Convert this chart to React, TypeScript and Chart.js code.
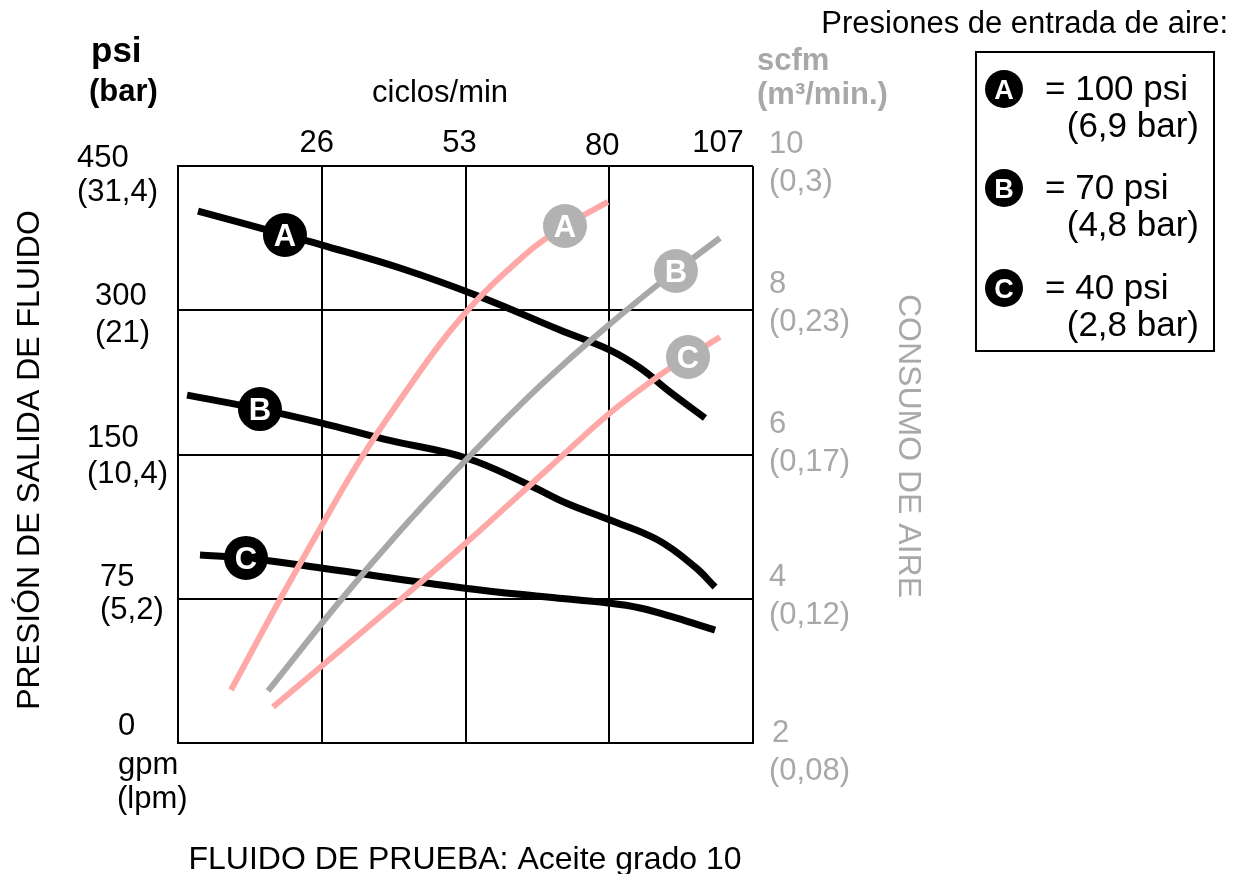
import React, { useEffect, useRef } from 'react';
import { Chart, registerables } from 'chart.js';

Chart.register(...registerables);

const FONT = '"Liberation Sans", Arial, Helvetica, sans-serif';

// ---------- DATA ----------
// Flow axis expressed in grid divisions (0..4); top cycle ticks sit on divisions 1..4.
const cycleTicks = ['26', '53', '80', '107'];
// Fluid outlet pressure axis (left), grid divisions 0..4
const psiTicks = ['0', '75', '150', '300', '450'];
const barTicks = ['', '(5,2)', '(10,4)', '(21)', '(31,4)'];
// Air consumption axis (right), scfm 2..10
const scfmTicks = ['2', '4', '6', '8', '10'];
const m3Ticks = ['(0,08)', '(0,12)', '(0,17)', '(0,23)', '(0,3)'];

// Fluid outlet pressure curves (x: flow division, y: pressure division)
const pressA_x = [0.139, 0.744, 1.002, 1.544, 2.087, 2.657, 3.005, 3.214, 3.423, 3.666];
const pressA_y = [3.688, 3.522, 3.452, 3.293, 3.099, 2.863, 2.724, 2.600, 2.433, 2.253];
const pressB_x = [0.063, 0.570, 1.0, 1.44, 2.004, 2.442, 2.699, 3.005, 3.339, 3.597, 3.736];
const pressB_y = [2.412, 2.315, 2.218, 2.105, 1.976, 1.789, 1.664, 1.546, 1.407, 1.220, 1.081];
const pressC_x = [0.153, 0.473, 0.995, 1.983, 2.567, 2.991, 3.214, 3.464, 3.736];
const pressC_y = [1.303, 1.283, 1.213, 1.075, 1.012, 0.971, 0.936, 0.867, 0.783];

// Air consumption curves (x: flow division, y: scfm)
const airA_x = [0.369, 0.696, 1.002, 1.266, 1.544, 1.962, 2.428, 2.692, 2.991];
const airA_y = [2.735, 3.941, 5.023, 5.924, 6.756, 7.879, 8.794, 9.168, 9.501];
const airB_x = [0.626, 1.127, 1.544, 1.983, 2.379, 2.692, 3.005, 3.318, 3.464, 3.770];
const airB_y = [2.721, 3.969, 4.939, 5.882, 6.686, 7.269, 7.809, 8.322, 8.544, 9.002];
const airC_x = [0.661, 1.544, 2.003, 2.588, 3.005, 3.353, 3.548, 3.770];
const airC_y = [2.499, 3.983, 4.773, 5.827, 6.575, 7.102, 7.352, 7.629];

// Curve badge letters and the point index they sit on (same order as datasets)
const badgeLetters = ['A', 'B', 'C', 'A', 'B', 'C'];
const badgeIndex = [7, 8, 6, 1, 1, 1];

// Legend
const legendTitle = 'Presiones de entrada de aire:';
const legendLetters = ['A', 'B', 'C'];
const legendPsi = ['= 100 psi', '= 70 psi', '= 40 psi'];
const legendBar = ['(6,9 bar)', '(4,8 bar)', '(2,8 bar)'];

// ---------- STYLE / LAYOUT ----------
const PINK = 'rgb(255,168,168)';
const GREY_LINE = 'rgb(168,168,168)';
const GREY_BADGE = 'rgb(178,178,178)';
const GREY_TEXT = 'rgb(168,168,168)';

const leftTickLeft = [118, 100, 87, 95, 77];
const leftTickBase = [-8, -13, -8, -5, 1];
const leftTickBase2 = [0, 33, 36, 37, 34];
const rightTickLeft = [772, 769, 769, 769, 769];
const rightTickBase = [-1, -13, -22, -17, -13];
const topTickDx = [-5, -6, -7, -35];
const topTickBase = [152, 152, 155, 152];

const pts = (xs: number[], ys: number[]) => xs.map((x, i) => ({ x, y: ys[i] }));

function drawText(
  ctx: CanvasRenderingContext2D,
  s: string,
  x: number,
  y: number,
  size: number,
  opt: { bold?: boolean; color?: string; align?: CanvasTextAlign; rot?: number } = {}
) {
  ctx.save();
  ctx.font = `${opt.bold ? 'bold ' : ''}${size}px ${FONT}`;
  ctx.fillStyle = opt.color || '#000';
  ctx.textAlign = opt.align || 'left';
  ctx.textBaseline = 'alphabetic';
  ctx.translate(x, y);
  if (opt.rot) ctx.rotate(opt.rot);
  ctx.fillText(s, 0, 0);
  ctx.restore();
}

function badge(ctx: CanvasRenderingContext2D, x: number, y: number, r: number, fill: string, letter: string, size: number) {
  ctx.save();
  ctx.beginPath();
  ctx.arc(x, y, r, 0, Math.PI * 2);
  ctx.fillStyle = fill;
  ctx.fill();
  ctx.font = `bold ${size}px ${FONT}`;
  ctx.fillStyle = '#fff';
  ctx.textAlign = 'center';
  ctx.textBaseline = 'alphabetic';
  ctx.fillText(letter, x, y + size * 0.36);
  ctx.restore();
}

const decorPlugin = {
  id: 'decor',
  afterDatasetsDraw(chart: any) {
    const ctx = chart.ctx as CanvasRenderingContext2D;
    chart.data.datasets.forEach((ds: any, i: number) => {
      const meta = chart.getDatasetMeta(i);
      const el = meta.data[badgeIndex[i]];
      if (!el) return;
      const fill = ds.yAxisID === 'y2' ? GREY_BADGE : '#000';
      badge(ctx, el.x, el.y, 22, fill, badgeLetters[i], 31);
    });
  },
  afterDraw(chart: any) {
    const ctx = chart.ctx as CanvasRenderingContext2D;
    const xs = chart.scales.x;
    const ys = chart.scales.y;
    const y2 = chart.scales.y2;

    // top cycles ticks
    cycleTicks.forEach((t, i) => {
      const px = xs.getPixelForValue(i + 1);
      drawText(ctx, t, px + topTickDx[i], topTickBase[i], 31, { align: 'center' });
    });
    drawText(ctx, 'ciclos/min', 372, 102, 31);

    // left psi / bar ticks
    psiTicks.forEach((t, i) => {
      const py = ys.getPixelForValue(i);
      drawText(ctx, t, leftTickLeft[i], py + leftTickBase[i], 31);
      if (barTicks[i]) drawText(ctx, barTicks[i], leftTickLeft[i], py + leftTickBase[i] + leftTickBase2[i], 31);
    });
    drawText(ctx, 'psi', 91, 62, 35, { bold: true });
    drawText(ctx, '(bar)', 89, 101, 31, { bold: true });
    drawText(ctx, 'gpm', 118, 774, 31);
    drawText(ctx, '(lpm)', 117, 808, 31);

    // right scfm ticks
    scfmTicks.forEach((t, i) => {
      const v = 2 + i * 2;
      const py = y2.getPixelForValue(v);
      drawText(ctx, t, rightTickLeft[i], py + rightTickBase[i], 31, { color: GREY_TEXT });
      drawText(ctx, m3Ticks[i], 769, py + rightTickBase[i] + 38, 31, { color: GREY_TEXT });
    });
    drawText(ctx, 'scfm', 757, 70, 31, { bold: true, color: GREY_TEXT });
    drawText(ctx, '(m\u00b3/min.)', 757, 104, 31, { bold: true, color: GREY_TEXT });

    // axis titles
    drawText(ctx, 'PRESIÓN DE SALIDA DE FLUIDO', 39, 460, 32, { align: 'center', rot: -Math.PI / 2 });
    drawText(ctx, 'CONSUMO DE AIRE', 899, 446, 32, { align: 'center', rot: Math.PI / 2, color: GREY_TEXT });
    drawText(ctx, 'FLUIDO DE PRUEBA: Aceite grado 10', 465, 869, 32, { align: 'center' });

    // legend
    drawText(ctx, legendTitle, 1228, 33, 31, { align: 'right' });
    ctx.save();
    ctx.strokeStyle = '#000';
    ctx.lineWidth = 2;
    ctx.strokeRect(976, 52, 238, 299);
    ctx.restore();
    const rowY = [89, 188, 288];
    legendLetters.forEach((l, i) => {
      badge(ctx, 1004, rowY[i], 19, '#000', l, 27);
      drawText(ctx, legendPsi[i], 1045, rowY[i] + 11, 35);
      drawText(ctx, legendBar[i], 1199, rowY[i] + 48, 35, { align: 'right' });
    });
  },
};

export default function App() {
  const ref = useRef<HTMLCanvasElement | null>(null);
  useEffect(() => {
    if (!ref.current) return;
    const line = (data: any[], color: string, axis: string, width: number) => ({
      data,
      borderColor: color,
      borderWidth: width,
      pointRadius: 0,
      pointHoverRadius: 0,
      fill: false,
      tension: 0.4,
      borderCapStyle: 'butt' as const,
      yAxisID: axis,
    });
    const chart = new Chart(ref.current, {
      type: 'line',
      data: {
        datasets: [
          line(pts(airA_x, airA_y), PINK, 'y2', 6),
          line(pts(airB_x, airB_y), GREY_LINE, 'y2', 6),
          line(pts(airC_x, airC_y), PINK, 'y2', 6),
          line(pts(pressA_x, pressA_y), '#000', 'y', 7),
          line(pts(pressB_x, pressB_y), '#000', 'y', 7),
          line(pts(pressC_x, pressC_y), '#000', 'y', 7),
        ],
      },
      options: {
        animation: false,
        responsive: false,
        devicePixelRatio: 1,
        events: [],
        layout: { padding: { left: 178, top: 166, right: 490, bottom: 131 } },
        plugins: { legend: { display: false }, tooltip: { enabled: false }, title: { display: false } },
        scales: {
          x: {
            type: 'linear',
            min: 0,
            max: 4,
            ticks: { display: false, stepSize: 1 },
            grid: { color: '#000', lineWidth: 2, drawTicks: false },
            border: { display: true, color: '#000', width: 2 },
            afterFit: (s: any) => { s.height = 0; },
          },
          y: {
            type: 'linear',
            min: 0,
            max: 4,
            ticks: { display: false, stepSize: 1 },
            grid: { color: '#000', lineWidth: 2, drawTicks: false },
            border: { display: true, color: '#000', width: 2 },
            afterFit: (s: any) => { s.width = 0; },
          },
          y2: {
            type: 'linear',
            min: 2,
            max: 10,
            display: false,
          },
        },
      } as any,
      plugins: [decorPlugin as any],
    });
    return () => chart.destroy();
  }, []);
  return (
    <div style={{ position: 'absolute', left: 0, top: 0, width: 1243, height: 874, background: '#fff' }}>
      <canvas ref={ref} width={1243} height={874} style={{ width: 1243, height: 874, display: 'block' }} />
    </div>
  );
}
